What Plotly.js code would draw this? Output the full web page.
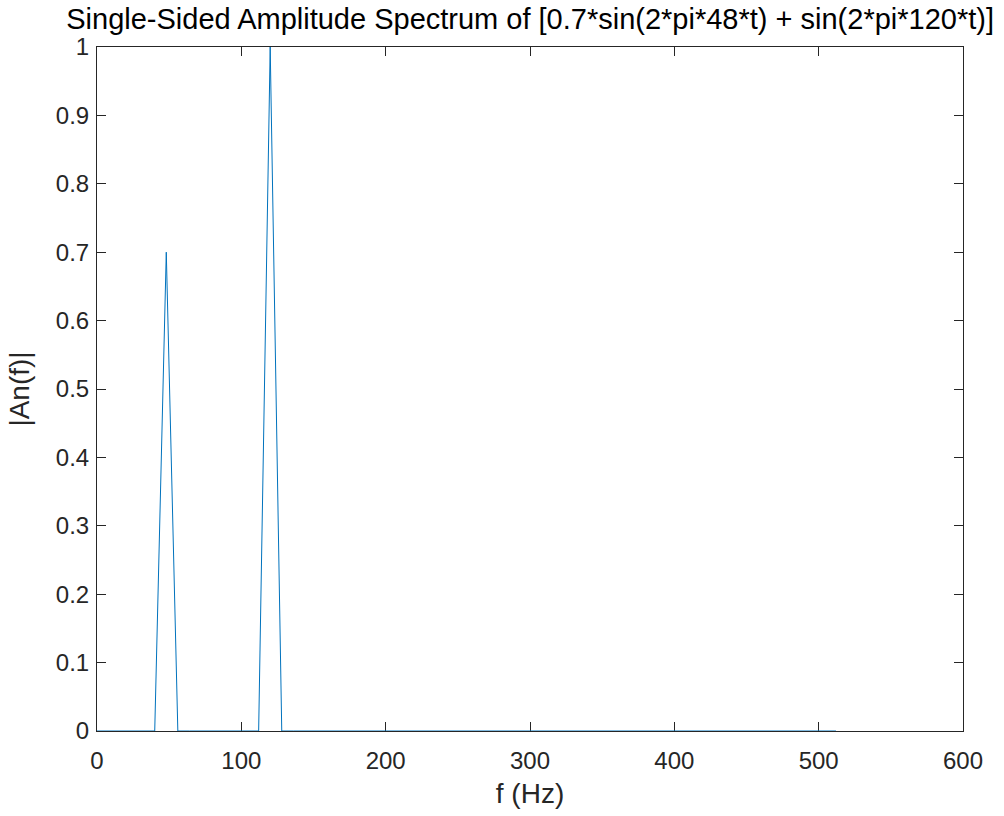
<!DOCTYPE html>
<html>
<head>
<meta charset="utf-8">
<script src="https://cdn.plot.ly/plotly-3.0.1.min.js"></script>
<style>html,body{margin:0;padding:0;background:#fff;}#chart{width:1004px;height:816px;}</style>
</head>
<body>
<div id="chart"></div>
<script>
var freqHz = [0,8,16,24,32,40,48,56,64,72,80,88,96,104,112,120,128,136,144,152,160,168,176,184,192,200,208,216,224,232,240,248,256,264,272,280,288,296,304,312,320,328,336,344,352,360,368,376,384,392,400,408,416,424,432,440,448,456,464,472,480,488,496,504,512];
var amplitude = [0,0,0,0,0,0,0.7,0,0,0,0,0,0,0,0,1,0,0,0,0,0,0,0,0,0,0,0,0,0,0,0,0,0,0,0,0,0,0,0,0,0,0,0,0,0,0,0,0,0,0,0,0,0,0,0,0,0,0,0,0,0,0,0,0,0];
var xTicks = [0,100,200,300,400,500,600];
var yTicks = [0,0.1,0.2,0.3,0.4,0.5,0.6,0.7,0.8,0.9,1];
var titleText = "Single-Sided Amplitude Spectrum of [0.7*sin(2*pi*48*t) + sin(2*pi*120*t)]";

var axisColor = '#262626';
var fontFam = 'Liberation Sans, Arial, sans-serif';

var trace = {
  x: freqHz, y: amplitude, type: 'scatter', mode: 'lines',
  line: {color: '#0072BD', width: 1}, hoverinfo: 'none'
};
var axisBase = {
  showline: true, mirror: 'ticks', linecolor: axisColor, linewidth: 1,
  ticks: 'inside', ticklen: 9, tickcolor: axisColor, tickwidth: 1,
  showgrid: false, zeroline: false, layer: 'below traces',
  tickfont: {family: fontFam, size: 24, color: axisColor}
};
var layout = {
  width: 1004, height: 816,
  margin: {l: 97, r: 41, t: 47, b: 85},
  paper_bgcolor: '#fff', plot_bgcolor: '#fff',
  showlegend: false,
  title: {text: titleText, font: {family: fontFam, size: 29, color: '#000'}, x: 0.528, xanchor: 'center', y: 0.977, yanchor: 'middle'},
  xaxis: Object.assign({}, axisBase, {range: [0, 600], tickvals: xTicks, ticktext: xTicks.map(String), ticklabelstandoff: 8,
    title: {text: 'f (Hz)', font: {family: fontFam, size: 28, color: axisColor}, standoff: 10}}),
  yaxis: Object.assign({}, axisBase, {range: [0, 1], tickvals: yTicks, ticktext: yTicks.map(String), ticklabelstandoff: 2,
    title: {text: '|An(f)|', font: {family: fontFam, size: 28, color: axisColor}, standoff: 18}})
};
Plotly.newPlot('chart', [trace], layout, {displayModeBar: false, staticPlot: true});
</script>
</body>
</html>
